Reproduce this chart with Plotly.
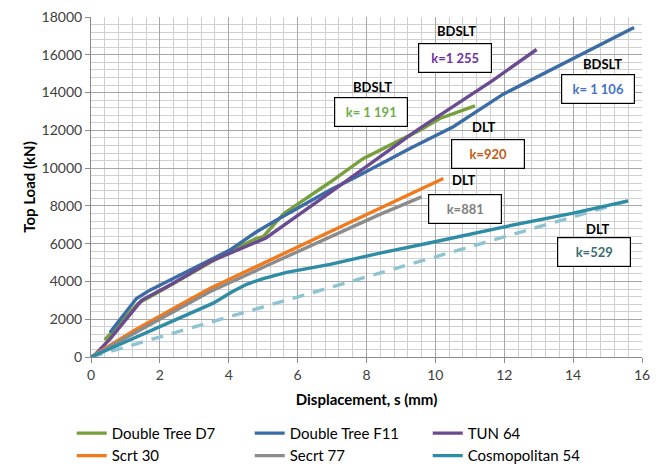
import plotly.graph_objects as go

# ---------------- data ----------------
series_names = ["Double Tree D7", "Double Tree F11", "TUN 64",
                "Scrt 30", "Secrt 77", "Cosmopolitan 54"]

d7_x = [0.4, 1.37, 1.9, 2.4, 3.45, 4.03, 4.81, 5.0, 5.6, 6.94, 7.9, 9.55, 10.13, 11.15]
d7_y = [900, 2840, 3370, 3900, 5000, 5600, 6280, 6370, 7600, 9250, 10500, 12010, 12630, 13300]

f11_x = [0.55, 1.32, 1.71, 4.03, 4.81, 5.39, 6.94, 7.71, 9.26, 10.52, 11.97, 14.0, 15.77]
f11_y = [1300, 3100, 3540, 5660, 6630, 7250, 8840, 9540, 11040, 12190, 13915, 15800, 17440]

tun_x = [0.1, 0.55, 1.47, 2.39, 3.45, 5.08, 6.94, 9.46, 11.68, 12.94]
tun_y = [100, 950, 3000, 3900, 5040, 6300, 8700, 12000, 14660, 16280]

scrt30_x = [0.0, 1.28, 2.58, 3.45, 6.94, 8.39, 10.23]
scrt30_y = [0, 1430, 2750, 3630, 6630, 7880, 9450]

secrt77_x = [0.0, 1.3, 2.39, 3.45, 5.0, 6.94, 8.39, 9.6]
secrt77_y = [0, 1300, 2400, 3450, 4750, 6350, 7550, 8480]

cosmo_x = [0.0, 1.3, 2.39, 3.55, 4.1, 4.52, 5.0, 5.68, 6.94, 8.39, 9.99, 11.97, 13.97, 15.6]
cosmo_y = [0, 1050, 1950, 2850, 3450, 3850, 4150, 4480, 4900, 5500, 6100, 6880, 7600, 8270]

# linear DLT fit line (k = 529)
fit_x = [0.0, 15.6]
fit_y = [0, 8270]

box_titles = ["BDSLT", "BDSLT", "BDSLT", "DLT", "DLT", "DLT"]
box_texts = ["k= 1 191", "k=1 255", "k= 1 106", "k=920", "k=881", "k=529"]

x_tick_labels = ["0", "2", "4", "6", "8", "10", "12", "14", "16"]
y_tick_labels = ["0", "2000", "4000", "6000", "8000", "10000", "12000", "14000", "16000", "18000"]

# ---------------- styling ----------------
line_colors = ["#77A03C", "#3C6CA6", "#6A4B90", "#F07A1C", "#8C8C8C", "#2E8CA4"]
text_colors = ["#70AD47", "#7030A0", "#4472C4", "#C55A11", "#7F7F7F", "#3B6E6E"]
FONT = "Lato"

fig = go.Figure()
all_x = [d7_x, f11_x, tun_x, scrt30_x, secrt77_x, cosmo_x]
all_y = [d7_y, f11_y, tun_y, scrt30_y, secrt77_y, cosmo_y]

fig.add_trace(go.Scatter(x=fit_x, y=fit_y, mode="lines", showlegend=False,
                         line=dict(color="#8EC3D2", width=3.4, dash="12px,9px"),
                         hoverinfo="skip"))
for name, xs, ys, c in zip(series_names, all_x, all_y, line_colors):
    fig.add_trace(go.Scatter(x=xs, y=ys, mode="lines", name=name,
                             line=dict(color=c, width=3.4)))

# annotation positions (data coords)
box_pos = [(8.13, 12960), (10.58, 15850), (14.72, 14200),
           (11.54, 10750), (10.85, 7850), (14.62, 5540)]
title_pos = [(8.16, 14290), (10.62, 17250), (14.86, 15500),
             (11.41, 12170), (10.83, 9370), (14.72, 6770)]

annots = []
for t, k, c, (bx, by), (tx, ty) in zip(box_titles, box_texts, text_colors, box_pos, title_pos):
    annots.append(dict(x=bx, y=by, xref="x", yref="y", text="<b>%s</b>" % k,
                       showarrow=False, font=dict(family=FONT, size=13, color=c),
                       bgcolor="white", bordercolor="#000000", borderwidth=1.2,
                       borderpad=0, width=72, height=28, align="center", valign="middle"))
    annots.append(dict(x=tx, y=ty, xref="x", yref="y", text="<b>%s</b>" % t,
                       showarrow=False, font=dict(family=FONT, size=13, color="#000000")))

# the page body adds an 8px offset, so the figure is sized to compensate
fig.update_layout(
    width=652, height=460,
    margin=dict(l=83, r=18, t=9, b=111, autoexpand=False),
    paper_bgcolor="white", plot_bgcolor="white",
    font=dict(family=FONT, size=13, color="#404040"),
    annotations=annots,
    showlegend=True,
    legend=dict(orientation="h", x=-0.035, xanchor="left", y=-0.176, yanchor="top",
                entrywidth=133, entrywidthmode="pixels",
                font=dict(family=FONT, size=15, color="#000000"),
                itemwidth=30, tracegroupgap=0),
)

fig.update_xaxes(
    range=[0, 16], tickvals=[float(v) for v in x_tick_labels], ticktext=x_tick_labels,
    showgrid=True, gridcolor="#A6A6A6", gridwidth=1,
    minor=dict(dtick=0.4, showgrid=True, gridcolor="#D0D0D0", gridwidth=1),
    showline=True, linecolor="#8C8C8C", linewidth=1,
    ticks="outside", ticklen=5, tickcolor="#8C8C8C",
    tickfont=dict(family=FONT, size=14, color="#404040"),
    zeroline=False, mirror=False, automargin=False, ticklabeloverflow="allow",
    title=dict(text="<b>Displacement, s (mm)</b>", standoff=12,
               font=dict(family=FONT, size=15, color="#000000")),
)
fig.update_yaxes(
    range=[0, 18000], tickvals=[float(v) for v in y_tick_labels], ticktext=y_tick_labels,
    showgrid=True, gridcolor="#A6A6A6", gridwidth=1,
    minor=dict(dtick=400, showgrid=True, gridcolor="#D0D0D0", gridwidth=1),
    showline=True, linecolor="#8C8C8C", linewidth=1,
    ticks="outside", ticklen=5, tickcolor="#8C8C8C",
    tickfont=dict(family=FONT, size=14, color="#404040"),
    zeroline=False, automargin=False, ticklabeloverflow="allow",
    title=dict(text="<b>Top Load (kN)</b>", standoff=2,
               font=dict(family=FONT, size=15, color="#000000")),
)

fig.write_html("out.html")
